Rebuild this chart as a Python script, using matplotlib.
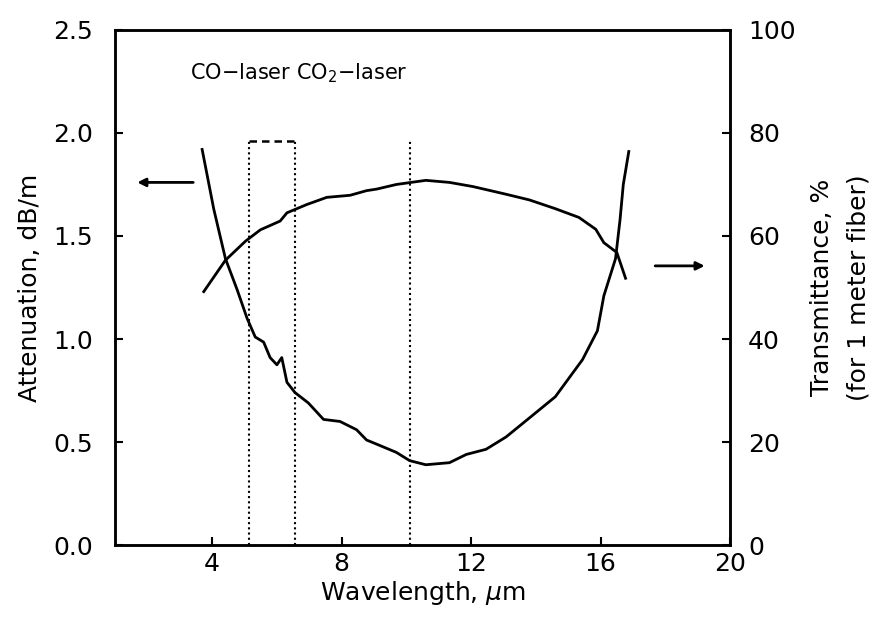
import matplotlib.pyplot as plt

# attenuation curve (left axis, dB/m)
att_x = [3.69, 4.05, 4.41, 4.77, 5.08, 5.33, 5.59, 5.79, 6.0, 6.15, 6.31, 6.56, 6.97,
         7.44, 7.95, 8.46, 8.77, 9.08, 9.69, 10.1, 10.6, 11.33, 11.85, 12.46, 13.08,
         13.9, 14.6, 15.44, 15.9, 16.1, 16.46, 16.6, 16.7, 16.87]
att_y = [1.92, 1.63, 1.39, 1.24, 1.10, 1.01, 0.985, 0.91, 0.875, 0.91, 0.79, 0.74, 0.69,
         0.61, 0.60, 0.56, 0.51, 0.49, 0.45, 0.41, 0.39, 0.40, 0.44, 0.465, 0.525,
         0.63, 0.72, 0.90, 1.04, 1.21, 1.39, 1.58, 1.75, 1.91]

# transmittance curve (right axis, %)
tr_x = [3.74, 4.41, 5.03, 5.49, 6.10, 6.31, 6.92, 7.54, 8.26, 8.77, 9.08, 9.69, 10.6,
        11.33, 12.05, 13.08, 13.8, 14.6, 15.33, 15.85, 16.1, 16.5, 16.77]
tr_y = [49.2, 55.3, 59.0, 61.2, 62.9, 64.5, 66.1, 67.5, 67.9, 68.8, 69.1, 70.0, 70.8,
        70.4, 69.6, 68.1, 67.0, 65.3, 63.6, 61.3, 58.7, 56.8, 51.8]

# laser markers
co_band = [5.15, 6.55]
co2_line = 10.1
marker_top = 1.96

x_ticks = [4, 8, 12, 16, 20]
left_ticks = [0.0, 0.5, 1.0, 1.5, 2.0, 2.5]
right_ticks = [0, 20, 40, 60, 80, 100]

fs = 18
fig = plt.figure(figsize=(8.85, 6.23), dpi=100)
ax = fig.add_axes([0.130, 0.125, 0.695, 0.827])
ax2 = ax.twinx()

ax.plot(att_x, att_y, color="black", lw=2.0)
ax2.plot(tr_x, tr_y, color="black", lw=2.0)

# CO laser box and CO2 line
for xv in co_band + [co2_line]:
    ax.plot([xv, xv], [0, marker_top], color="black", lw=1.5, ls=(0, (1, 1.5)))
ax.plot(co_band, [marker_top, marker_top], color="black", lw=1.8, ls=(0, (3, 2)))

ax.text(3.3, 2.29, "CO$-$laser CO$_2$$-$laser", fontsize=15, va="center", ha="left")

# arrows pointing to the axes
ax.annotate("", xy=(1.6, 1.76), xytext=(3.5, 1.76),
            arrowprops=dict(arrowstyle="-|>", color="black", lw=2.0, mutation_scale=12))
ax.annotate("", xy=(19.3, 1.355), xytext=(17.6, 1.355),
            arrowprops=dict(arrowstyle="-|>", color="black", lw=2.0, mutation_scale=12))

ax.set_xlim(1, 20)
ax.set_ylim(0, 2.5)
ax2.set_ylim(0, 100)
ax.set_xticks(x_ticks)
ax.set_yticks(left_ticks)
ax.set_yticklabels([f"{v:.1f}" for v in left_ticks])
ax2.set_yticks(right_ticks)

ax.tick_params(axis="both", direction="in", length=6, width=1.5, labelsize=fs, pad=16)
ax.tick_params(axis="x", pad=5)
ax2.tick_params(axis="y", direction="in", length=6, width=1.5, labelsize=fs, pad=13)
ax.tick_params(top=False)

for a in (ax, ax2):
    for s in a.spines.values():
        s.set_linewidth(1.8)

ax.set_xlabel("Wavelength, $\\mu$m", fontsize=fs, labelpad=2)
ax.set_ylabel("Attenuation, dB/m", fontsize=fs, labelpad=8)
ax2.set_ylabel("Transmittance, %\n(for 1 meter fiber)", fontsize=fs, labelpad=10,
               linespacing=1.7)

fig.savefig("out.png", dpi=100)
